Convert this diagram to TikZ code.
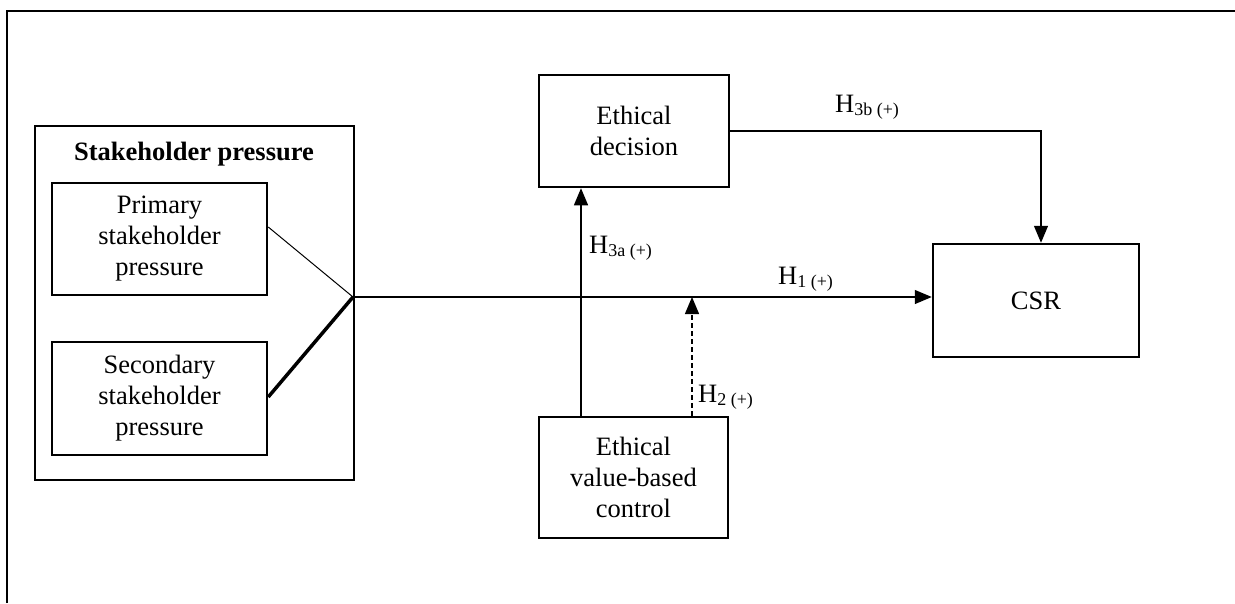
\documentclass[tikz,border=0pt]{standalone}
\usepackage{fontspec}
\setmainfont{Liberation Serif}
\usetikzlibrary{arrows.meta,calc}
\newcommand{\hsub}[1]{\raisebox{-3pt}{\fontsize{18}{18}\selectfont #1}}
\begin{document}
\begin{tikzpicture}[x=1pt,y=-1pt,
  box/.style={draw,line width=2.5pt,inner sep=0pt,align=center,font=\fontsize{26.5}{31}\selectfont},
  conn/.style={line width=1.3pt},
  arr/.style={conn,-{Triangle[length=17pt,width=14pt]}},
  lbl/.style={anchor=base west,inner sep=0pt,font=\fontsize{26.5}{31}\selectfont}]
\useasboundingbox (0,0) rectangle (1235,603);
\draw[line width=2.5pt] (7,603) -- (7,11) -- (1235,11);

% boxes
\node[box,minimum width=319pt,minimum height=354pt] (sp) at (194.5,303) {};
\node[inner sep=0pt,font=\fontsize{26.5}{31}\selectfont\bfseries] (sptitle) at (194,154) {Stakeholder pressure};
\node[box,minimum width=215pt,minimum height=112pt] (prim) at (159.5,239) {Primary\\stakeholder\\pressure};
\node[box,minimum width=215pt,minimum height=113pt] (sec) at (159.5,398.5) {Secondary\\stakeholder\\pressure};
\node[box,minimum width=190pt,minimum height=112pt] (ed) at (634,131) {Ethical\\decision};
\node[box,minimum width=189pt,minimum height=121pt] (evbc) at (633.5,477.5) {Ethical\\value-based\\control};
\node[box,minimum width=206pt,minimum height=113pt] (csr) at (1036,300.5) {CSR};

% junction and helper coordinates
\coordinate (J) at (353,297);
\coordinate (xa) at (581,0);
\coordinate (xb) at (692,0);

% connectors
\draw[line width=1pt] ([yshift=12pt]prim.east) -- (J);
\draw[line width=3.5pt] ([yshift=1.5pt]sec.east) -- (J);
\draw[arr] (J) -- (J -| csr.west);
\draw[arr] (evbc.north -| xa) -- (ed.south -| xa);
\draw[arr,dash pattern=on 5pt off 3pt] (evbc.north -| xb) -- (J -| xb);
\draw[arr] (ed.east) -| ([xshift=5pt]csr.north);

% labels
\node[lbl] (l1) at (778,284) {H\hsub{1 (+)}};
\node[lbl] (l2) at (698,402) {H\hsub{2 (+)}};
\node[lbl] (l3a) at (589,253) {H\hsub{3a (+)}};
\node[lbl] (l3b) at (835,112) {H\hsub{3b (+)}};
\end{tikzpicture}
\end{document}
